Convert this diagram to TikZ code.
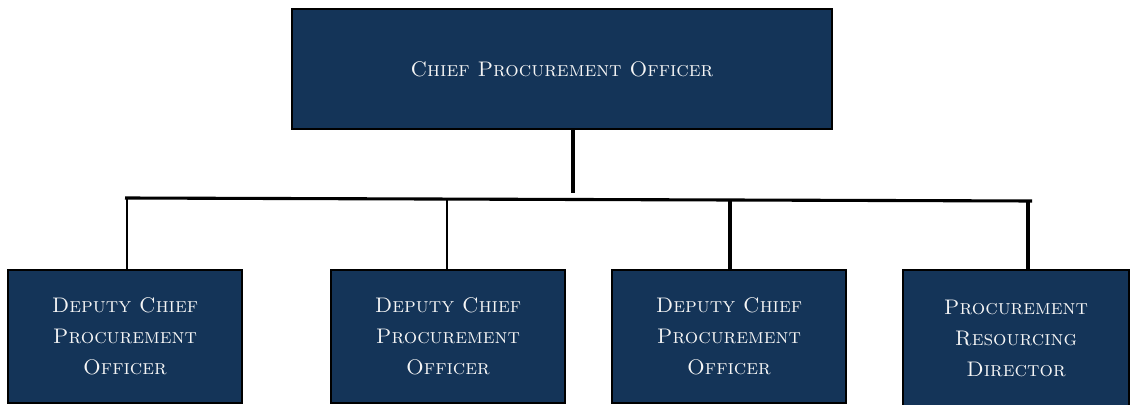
\documentclass[tikz,border=0pt]{standalone}
\usetikzlibrary{positioning}
\definecolor{navy}{RGB}{20,52,88}
\definecolor{boxtext}{RGB}{245,245,245}
\tikzset{
  post/.style={draw=black, line width=1pt, fill=navy, text=boxtext,
    align=center, inner sep=0pt, font=\fontsize{15}{22}\selectfont\scshape},
  wire/.style={line width=2.2pt}
}
\begin{document}
\begin{tikzpicture}[x=0.025cm, y=-0.025cm]
    \useasboundingbox (0,0) rectangle (1130,405);

    \node[post, minimum width=540*0.025cm, minimum height=120*0.025cm] (cpo) at (562,69) {Chief Procurement Officer};

    \begin{scope}[every node/.append style={minimum width=234*0.025cm, minimum height=133*0.025cm}]
      \node[post] (dcpo1) at (125,336.5) {Deputy Chief\\Procurement\\Officer};
      \node[post] (dcpo2) at (448,336.5) {Deputy Chief\\Procurement\\Officer};
      \node[post] (dcpo3) at (729,336.5) {Deputy Chief\\Procurement\\Officer};
    \end{scope}
    \node[post, minimum width=226*0.025cm, minimum height=137*0.025cm] (prd) at (1016,338.5) {Procurement\\Resourcing\\Director};

    \coordinate (stem) at (573,193);
    \coordinate (busL) at (125,198);
    \coordinate (busR) at (1032,201);

    \draw[wire] (cpo.south -| stem) -- (stem);
    \draw[wire] (busL) -- (busR);
    \draw[wire, line width=1.5pt] (dcpo1.north -| 127,0) -- (127,198);
    \draw[wire, line width=1.5pt] (dcpo2.north -| 447,0) -- (447,199);
    \draw[wire] (dcpo3.north -| 730,0) -- (730,200);
    \draw[wire] (prd.north -| busR) ++(-4,0) -- ++(0,-69);
\end{tikzpicture}
\end{document}
